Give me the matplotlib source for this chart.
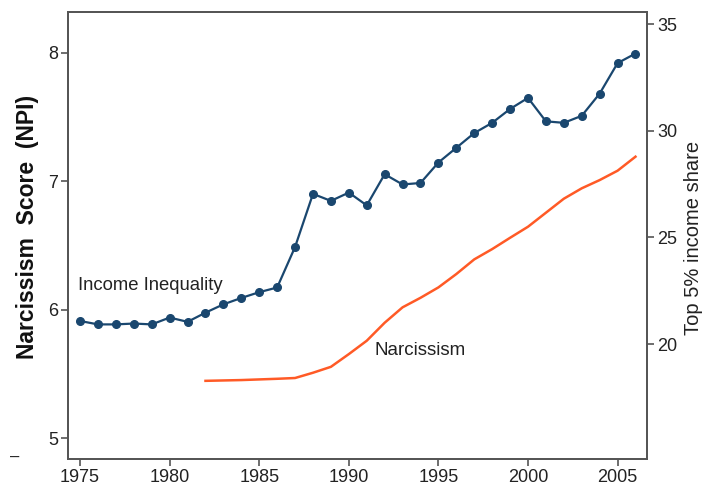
import matplotlib.pyplot as plt

plt.rcParams['font.family'] = ['Liberation Sans', 'DejaVu Sans']

# Top 5% income share (right axis)
income_years = list(range(1975, 2007))
income_share = [21.08, 20.92, 20.92, 20.96, 20.92, 21.24, 21.04, 21.47, 21.86, 22.16,
                22.43, 22.65, 24.55, 27.04, 26.71, 27.10, 26.50, 27.96, 27.48, 27.55,
                28.51, 29.20, 29.89, 30.37, 31.02, 31.54, 30.44, 30.37, 30.70, 31.74,
                33.17, 33.62]

# Narcissism score NPI (left axis)
npi_years = list(range(1982, 2007))
npi_score = [5.447, 5.450, 5.453, 5.458, 5.463, 5.469, 5.510, 5.556, 5.655, 5.759,
             5.899, 6.019, 6.093, 6.174, 6.278, 6.392, 6.472, 6.560, 6.646, 6.755,
             6.864, 6.945, 7.009, 7.082, 7.191]

x_ticks = [1975, 1980, 1985, 1990, 1995, 2000, 2005]
left_ticks = [5, 6, 7, 8]
right_ticks = [20, 25, 30, 35]

NAVY = "#1a476f"
ORANGE = "#ff5a26"
SPINE = "#555555"

fig = plt.figure(figsize=(7.03, 4.90), dpi=100)
ax = fig.add_axes([0.0963, 0.0633, 0.8245, 0.9128])
ax2 = ax.twinx()

ax.plot(npi_years, npi_score, color=ORANGE, linewidth=1.8, zorder=3)
ax2.plot(income_years, income_share, color=NAVY, linewidth=1.6,
         marker="o", markersize=5.5, zorder=3)

ax.set_xlim(1974.31, 2006.66)
ax.set_ylim(4.839, 8.319)
ax2.set_ylim(14.61, 35.58)

ax.set_xticks(x_ticks)
ax.set_yticks(left_ticks)
ax2.set_yticks(right_ticks)

for a in (ax, ax2):
    for s in a.spines.values():
        s.set_color(SPINE)
        s.set_linewidth(1.3)
    a.tick_params(colors=SPINE, labelcolor="#222222", labelsize=13,
                  length=5, width=1.2, pad=2)

# axis titles placed by hand to sit where the reference has them
fig.text(0.0398, 0.5378, "Narcissism  Score  (NPI)", fontsize=16.5,
         fontweight="bold", color="#111111", rotation=90, ha="center", va="center")
fig.text(0.9862, 0.5143, "Top 5% income share", fontsize=14.5,
         color="#222222", rotation=90, ha="center", va="center")

ax.text(1974.89, 6.187, "Income Inequality", fontsize=13.3, color="#222222",
        va="center", ha="left")
ax.text(1991.46, 5.686, "Narcissism", fontsize=13.5, color="#222222",
        va="center", ha="left")

fig.text(0.021, 0.067, "\u2013", fontsize=12, color="#222222", ha="center", va="center")

fig.savefig("out.png", dpi=100)
